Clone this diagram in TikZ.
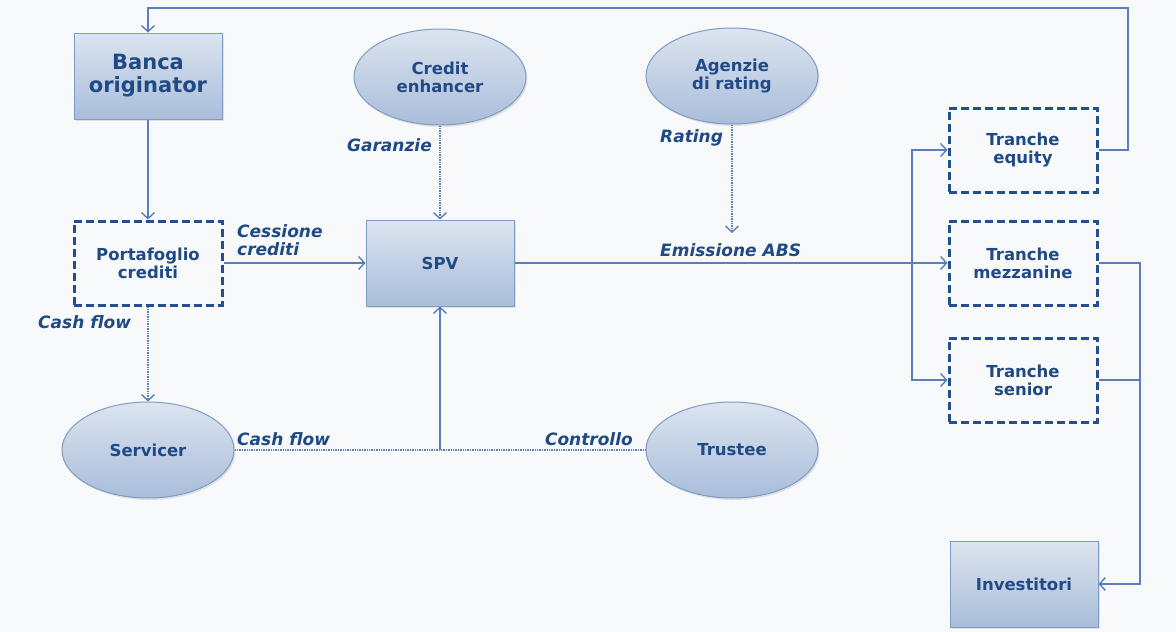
\documentclass[tikz,border=0pt]{standalone}
\usepackage{fontspec}
\setmainfont{DejaVu Sans}
\usepackage{tikz}
\usetikzlibrary{positioning,arrows.meta,shapes.geometric,shadows}
\definecolor{sfondo}{HTML}{F8F9FB}
\definecolor{linea}{HTML}{5A7FB8}
\definecolor{testo}{HTML}{1F4A86}
\definecolor{bordo}{HTML}{7E9BC6}
\definecolor{chiaro}{HTML}{DCE4EF}
\definecolor{scuro}{HTML}{A9BDDA}
\definecolor{tratto}{HTML}{234F8E}

\begin{document}
\begin{tikzpicture}[x=1pt,y=-1pt,
    font=\fontsize{16.5}{18}\selectfont\bfseries,
    ente/.style={draw=bordo,line width=1pt,top color=chiaro,bottom color=scuro,text=testo,align=center,inner sep=0pt,
        drop shadow={opacity=0.2,shadow xshift=1.5pt,shadow yshift=-2pt}},
    scatola/.style={ente,rectangle,minimum width=148pt,minimum height=86pt},
    ovale/.style={ente,ellipse,minimum width=172pt,minimum height=96pt},
    tranche/.style={draw=tratto,line width=3pt,dash pattern=on 8pt off 4pt,fill=sfondo,text=testo,align=center,
        minimum width=148pt,minimum height=84pt,inner sep=0pt},
    freccia/.style={draw=linea,line width=1.4pt,-{Straight Barb[length=6pt,width=13pt]}},
    puntini/.style={freccia,densely dotted},
    etichetta/.style={text=testo,font=\fontsize{17}{18}\selectfont\bfseries\itshape,inner sep=0pt,align=left}]
    \fill[sfondo] (0,0) rectangle (1176,632);
    \useasboundingbox (0,0) rectangle (1176,632);
    % soggetti
    \node[scatola,font=\fontsize{21}{23}\selectfont\bfseries] (banca) at (148,76) {Banca\\originator};
    \node[tranche] (portafoglio) at (148,263) {Portafoglio\\crediti};
    \node[scatola] (spv) at (440,263) {SPV};
    \node[ovale] (credit) at (440,77) {Credit\\enhancer};
    \node[ovale] (agenzie) at (732,76) {Agenzie\\di rating};
    \node[ovale] (servicer) at (148,450) {Servicer};
    \node[ovale] (trustee) at (732,450) {Trustee};
    \node[tranche] (equity) at (1023,150) {Tranche\\equity};
    \node[tranche] (mezzanine) at (1023,263) {Tranche\\mezzanine};
    \node[tranche] (senior) at (1023,380) {Tranche\\senior};
    \node[scatola,minimum height=86pt] (investitori) at (1024,584) {Investitori};
    % punti di appoggio
    \coordinate (giro) at (1128,8);
    \coordinate (rating) at (732,233);
    \coordinate (ramo) at (912,263);
    \coordinate (colonna) at (1140,263);
    \coordinate (incrocio) at (spv |- servicer);
    % flussi
    \draw[freccia] (equity.east) -| (giro) -| (banca.north);
    \draw[freccia] (banca) -- (portafoglio);
    \draw[freccia] (portafoglio) -- (spv);
    \draw[puntini] (credit) -- (spv);
    \draw[puntini] (agenzie) -- (rating);
    \draw[freccia] (spv) -- (mezzanine);
    \draw[freccia] (ramo) |- (equity.west);
    \draw[freccia] (ramo) |- (senior.west);
    \draw[freccia] (mezzanine.east) -| (investitori.east -| colonna) -- (investitori.east);
    \draw[draw=linea,line width=1.4pt] (senior.east) -- (senior.east -| colonna);
    \draw[puntini] (portafoglio) -- (servicer);
    \draw[draw=linea,line width=1.4pt,densely dotted] (servicer) -- (trustee);
    \draw[freccia] (incrocio) -- (spv);
    % etichette
    \node[etichetta,anchor=west] (cessione) at (237,240) {Cessione\\crediti};
    \node[etichetta,anchor=east] (garanzie) at (432,145) {Garanzie};
    \node[etichetta,anchor=west] (rat) at (660,138) {Rating};
    \node[etichetta,anchor=west] (emissione) at (660,250) {Emissione ABS};
    \node[etichetta,anchor=west] (cash1) at (38,322) {Cash flow};
    \node[etichetta,anchor=west] (cash2) at (237,439) {Cash flow};
    \node[etichetta,anchor=east] (controllo) at (633,439) {Controllo};
\end{tikzpicture}
\end{document}
